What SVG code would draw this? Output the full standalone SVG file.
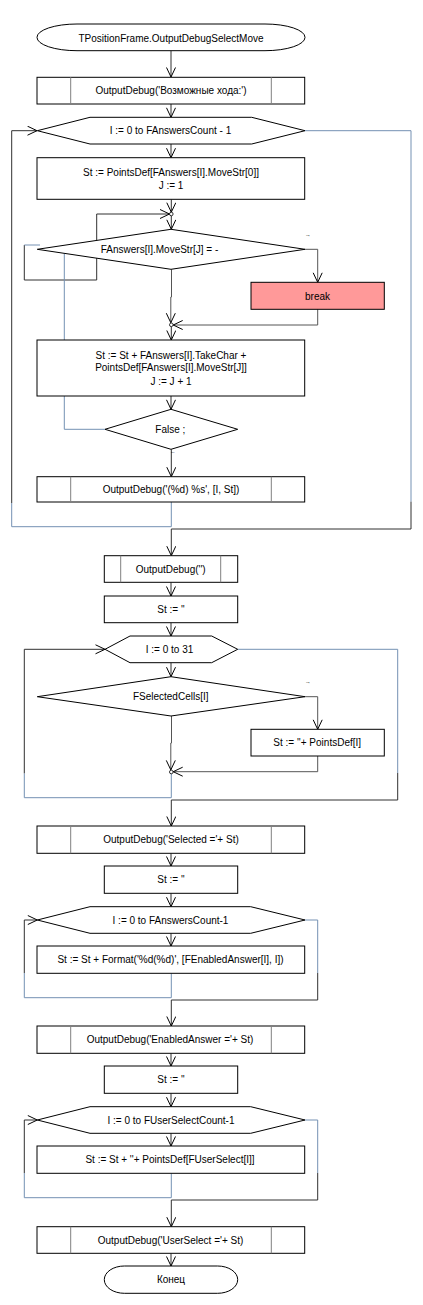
<svg xmlns="http://www.w3.org/2000/svg" width="423" height="1305" viewBox="0 0 423 1305">
<style>
.n{fill:#fff;stroke:#000;stroke-width:1}
.in{stroke:#808080;stroke-width:1}
.t{font-family:"Liberation Sans",Arial,sans-serif;font-size:10px;fill:#000;text-anchor:middle}
.c{fill:none;stroke:#303030;stroke-width:1}
.g{fill:none;stroke:#555;stroke-width:1}
.b{fill:none;stroke:#7491B3;stroke-width:1}
.j{fill:#fff;stroke:#000;stroke-width:0.8}
.m{font-family:"DejaVu Sans",sans-serif;font-size:5px;fill:#000}
</style>
<defs>
<marker id="a" markerUnits="userSpaceOnUse" markerWidth="12" markerHeight="12" refX="10" refY="5" orient="auto">
<path d="M0.5,0.5 L10,5 L0.5,9.5" fill="none" stroke="#000" stroke-width="1"/>
</marker>
</defs>
<rect width="423" height="1305" fill="#fff"/>

<g id="connectors">
<line class="c" x1="171" y1="50.7" x2="171" y2="77" marker-end="url(#a)"/>
<line class="c" x1="171" y1="104" x2="171" y2="117.3" marker-end="url(#a)"/>
<line class="c" x1="171" y1="144" x2="171" y2="157.7" marker-end="url(#a)"/>
<line class="c" x1="171.3" y1="199.3" x2="171.3" y2="212.2" marker-end="url(#a)"/>
<line class="c" x1="171.3" y1="215.8" x2="171.3" y2="229.3" marker-end="url(#a)"/>
<polyline class="c" points="24.3,245 24.3,280 96.7,280 96.7,214 169.5,214" marker-end="url(#a)"/>
<line class="b" x1="24.3" y1="245" x2="40" y2="245"/>
<polyline class="g" points="305,249.3 317.7,249.3 317.7,282.3" marker-end="url(#a)"/>
<polyline class="g" points="317.7,309.3 317.7,325 173.2,325" marker-end="url(#a)"/>
<polyline class="g" points="171.5,269.3 171.5,297 170.8,297 170.8,322.7" marker-end="url(#a)"/>
<line class="c" x1="171.3" y1="326.6" x2="171.3" y2="340" marker-end="url(#a)"/>
<line class="c" x1="171" y1="396" x2="171" y2="409.3" marker-end="url(#a)"/>
<polyline class="b" points="105,429.3 64.3,429.3 64.3,253.5"/>
<line class="c" x1="171.3" y1="449.3" x2="171.3" y2="476.7" marker-end="url(#a)"/>
<polyline class="b" points="171.3,502 171.3,526.7 11.7,526.7 11.7,503"/>
<polyline class="c" points="11.7,503 11.7,130.7 37,130.7" marker-end="url(#a)"/>
<polyline class="b" points="305,130.7 411,130.7 411,501.7"/>
<polyline class="c" points="411,501.7 411,529 171.3,529 171.3,555.7" marker-end="url(#a)"/>
<line class="c" x1="171" y1="582.3" x2="171" y2="596" marker-end="url(#a)"/>
<line class="c" x1="171" y1="622.7" x2="171" y2="636" marker-end="url(#a)"/>
<line class="c" x1="171" y1="662.7" x2="171" y2="676.7" marker-end="url(#a)"/>
<polyline class="g" points="305,696.7 317.7,696.7 317.7,729.3" marker-end="url(#a)"/>
<polyline class="g" points="317.7,756 317.7,771.7 173.2,771.7" marker-end="url(#a)"/>
<polyline class="g" points="171.5,716 171.5,743 170.8,743 170.8,769.9" marker-end="url(#a)"/>
<polyline class="b" points="171.3,773.6 171.3,797.7 24.3,797.7 24.3,773.3"/>
<polyline class="c" points="24.3,773.3 24.3,649.3 105,649.3" marker-end="url(#a)"/>
<polyline class="b" points="237.7,649.3 397.7,649.3 397.7,773"/>
<polyline class="c" points="397.7,773 397.7,800 171.3,800 171.3,826" marker-end="url(#a)"/>
<line class="c" x1="171" y1="853.3" x2="171" y2="866" marker-end="url(#a)"/>
<line class="c" x1="171" y1="893.3" x2="171" y2="906.7" marker-end="url(#a)"/>
<line class="c" x1="171" y1="933.3" x2="171" y2="946" marker-end="url(#a)"/>
<polyline class="b" points="171.3,973.3 171.3,997.7 24.3,997.7 24.3,973"/>
<polyline class="c" points="24.3,973 24.3,920 37.3,920" marker-end="url(#a)"/>
<polyline class="b" points="305,920 317.7,920 317.7,973"/>
<polyline class="c" points="317.7,973 317.7,1000 171.3,1000 171.3,1026" marker-end="url(#a)"/>
<line class="c" x1="171" y1="1053.3" x2="171" y2="1066" marker-end="url(#a)"/>
<line class="c" x1="171" y1="1093.3" x2="171" y2="1106.7" marker-end="url(#a)"/>
<line class="c" x1="171" y1="1133.3" x2="171" y2="1146" marker-end="url(#a)"/>
<polyline class="b" points="171.3,1173.3 171.3,1197.7 24.3,1197.7 24.3,1173"/>
<polyline class="c" points="24.3,1173 24.3,1120 37.3,1120" marker-end="url(#a)"/>
<polyline class="b" points="305,1120 317.7,1120 317.7,1173"/>
<polyline class="c" points="317.7,1173 317.7,1200 171.3,1200 171.3,1226.7" marker-end="url(#a)"/>
<line class="c" x1="171" y1="1253.3" x2="171" y2="1266" marker-end="url(#a)"/>
</g>

<g id="start"><rect class="n" x="37" y="24" width="268" height="26.7" rx="40" ry="13.3"/><text class="t" x="171" y="41.5">TPositionFrame.OutputDebugSelectMove</text></g>
<g id="debug1"><rect class="n" x="37" y="77.3" width="267.7" height="26.7"/><line class="in" x1="70.7" y1="77.3" x2="70.7" y2="104"/><line class="in" x1="271.3" y1="77.3" x2="271.3" y2="104"/><text class="t" x="171" y="94.2">OutputDebug('Возможные хода:')</text></g>
<g id="loop1"><polygon class="n" points="37.3,130.7 90,117.3 251.7,117.3 305,130.7 251.7,144 90,144"/><text class="t" x="170.5" y="134.2">I := 0 to FAnswersCount - 1</text></g>
<g id="init"><rect class="n" x="37" y="157.7" width="267.7" height="41.6"/><text class="t" x="171" y="175.8">St := PointsDef[FAnswers[I].MoveStr[0]]</text><text class="t" x="171" y="188.5">J := 1</text></g>
<g id="junction1"><circle class="j" cx="171.3" cy="214" r="1.8"/></g>
<g id="cond1"><polygon class="n" points="171,229.3 305,249.3 171,269.3 37.3,249.3"/><text class="t" x="159.5" y="252.8">FAnswers[I].MoveStr[J] = -</text><text class="m" x="305.5" y="237">¬</text></g>
<g id="break"><rect x="251" y="282.3" width="133.3" height="27" fill="#FF9999" stroke="#000"/><text class="t" x="317.5" y="299.5">break</text></g>
<g id="junction2"><circle class="j" cx="171.3" cy="324.8" r="1.8"/></g>
<g id="append"><rect class="n" x="37" y="340" width="267.7" height="56"/><text class="t" x="171" y="358.5">St := St + FAnswers[I].TakeChar +</text><text class="t" x="171" y="371.2">PointsDef[FAnswers[I].MoveStr[J]]</text><text class="t" x="171" y="384.5">J := J + 1</text></g>
<g id="cond2"><polygon class="n" points="171,409.3 237.7,429.3 171,449.3 105,429.3"/><text class="t" x="170.3" y="432.8">False ;</text><text class="m" x="172" y="454" transform="rotate(180 173.5 452.5)">¬</text></g>
<g id="debug2"><rect class="n" x="37" y="476.7" width="267.7" height="25.3"/><line class="in" x1="70.7" y1="476.7" x2="70.7" y2="502"/><line class="in" x1="271.3" y1="476.7" x2="271.3" y2="502"/><text class="t" x="171" y="493">OutputDebug('(%d) %s', [I, St])</text></g>
<g id="debug3"><rect class="n" x="104.3" y="555.7" width="133.4" height="26.6"/><line class="in" x1="120.7" y1="555.7" x2="120.7" y2="582.3"/><line class="in" x1="220.7" y1="555.7" x2="220.7" y2="582.3"/><text class="t" x="170.7" y="573">OutputDebug('')</text></g>
<g id="clear1"><rect class="n" x="104.3" y="596" width="133.4" height="26.7"/><text class="t" x="171" y="613">St := ''</text></g>
<g id="loop2"><polygon class="n" points="105,649.3 130,636 211.7,636 237.7,649.3 211.7,662.7 130,662.7"/><text class="t" x="169.5" y="652.8">I := 0 to 31</text></g>
<g id="cond3"><polygon class="n" points="171,676.7 305,696.7 171,716 37.3,696.7"/><text class="t" x="170.7" y="700">FSelectedCells[I]</text><text class="m" x="305.5" y="683.5">¬</text></g>
<g id="add1"><rect class="n" x="251" y="729.3" width="133.3" height="26.7"/><text class="t" x="317.2" y="746">St := ''+ PointsDef[I]</text></g>
<g id="junction3"><circle class="j" cx="171.3" cy="772" r="1.8"/></g>
<g id="debug4"><rect class="n" x="37" y="826" width="267.7" height="27.3"/><line class="in" x1="70.7" y1="826" x2="70.7" y2="853.3"/><line class="in" x1="271.3" y1="826" x2="271.3" y2="853.3"/><text class="t" x="171" y="843.2">OutputDebug('Selected ='+ St)</text></g>
<g id="clear2"><rect class="n" x="104.3" y="866" width="133.4" height="27.3"/><text class="t" x="171" y="883.2">St := ''</text></g>
<g id="loop3"><polygon class="n" points="37.3,920 90,906.7 250.7,906.7 305,920 250.7,933.3 90,933.3"/><text class="t" x="170.5" y="923.5">I := 0 to FAnswersCount-1</text></g>
<g id="format"><rect class="n" x="37" y="946" width="267.7" height="27.3"/><text class="t" x="170.5" y="963.2">St := St + Format('%d(%d)', [FEnabledAnswer[I], I])</text></g>
<g id="debug5"><rect class="n" x="37" y="1026" width="267.7" height="27.3"/><line class="in" x1="70.7" y1="1026" x2="70.7" y2="1053.3"/><line class="in" x1="271.3" y1="1026" x2="271.3" y2="1053.3"/><text class="t" x="170" y="1043.2">OutputDebug('EnabledAnswer ='+ St)</text></g>
<g id="clear3"><rect class="n" x="104.3" y="1066" width="133.4" height="27.3"/><text class="t" x="171" y="1083.2">St := ''</text></g>
<g id="loop4"><polygon class="n" points="37.3,1120 90,1106.7 250.7,1106.7 305,1120 250.7,1133.3 90,1133.3"/><text class="t" x="171" y="1123.5">I := 0 to FUserSelectCount-1</text></g>
<g id="add2"><rect class="n" x="37" y="1146" width="267.7" height="27.3"/><text class="t" x="170" y="1163.2">St := St + ''+ PointsDef[FUserSelect[I]]</text></g>
<g id="debug6"><rect class="n" x="37" y="1226.7" width="267.7" height="26.6"/><line class="in" x1="70.7" y1="1226.7" x2="70.7" y2="1253.3"/><line class="in" x1="271.3" y1="1226.7" x2="271.3" y2="1253.3"/><text class="t" x="170.5" y="1243.6">OutputDebug('UserSelect ='+ St)</text></g>
<g id="end"><rect class="n" x="104.3" y="1266" width="133.4" height="27.3" rx="20" ry="13.6"/><text class="t" x="171" y="1283.2">Конец</text></g>
</svg>
